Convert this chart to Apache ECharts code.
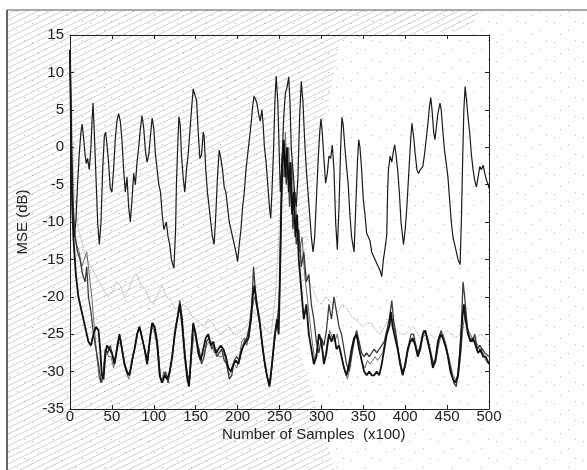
<!DOCTYPE html>
<html>
<head>
<meta charset="utf-8">
<script src="https://cdn.jsdelivr.net/npm/echarts@6/dist/echarts.min.js"></script>
<style>html,body{margin:0;padding:0;background:#fff}#c{width:587px;height:470px}</style>
</head>
<body>
<div id="c"></div>
<script>
// ---- data (x in samples x100, y in dB) ----
var xTicks = [0,50,100,150,200,250,300,350,400,450,500];
var yTicks = [15,10,5,0,-5,-10,-15,-20,-25,-30,-35];
var xTitle = 'Number of Samples  (x100)';
var yTitle = 'MSE (dB)';

var aX = [0,1,2,3,5,7,9,11,13,14.5,16,18,19.5,21,23,25,26.5,27.5,29,31,33,35,37,39,41,42.5,44,46,48,50,52,54,56,58,60,62,64,66,68,70,72,74,76,78,80,82,84,86,88,90,92,94,96,98,100,102,104,106,108,110,112,115,117,119,121,124,126,127,128.5,130,131.5,133,135,137,139,141,143,145,147,149,151,153,155,157,159,160,162,164,166,168,170,172,174,176,178,180,182,184,186,188,190,192,194,196,198,200,202,204,206,208,210,212,214,216,218,219.5,221,223,225,227,229,230.5,232,234,236,238,239.5,241,243,244.5,246,248,250,251,253,255,257,259,261,262.5,264,266,268,270,272,274,276,278,280,282,284,286,288,290,292,294,296,298,299.5,301,303,305,307,309,311,313,315,317,319,321,323,324.5,326,328,330,332,334,336,339,341,343,344.5,346,348,350,352,354,356,358,360,362,364,366,368,370,372,374,376,378,379,380,382,384,386,387.5,389,391,393,395,397,398,400,402,404,406,408,410,412,414,416,418,421,423,425,427,429,430.5,432,434,435.5,437,439,441.5,443,445,447,449.5,451,453,455,457,459,461,463,465.5,467,468.5,470,471.5,473,475,477,479,481,483,485,487,489,491,493,495,497,499,500];
var aY = [12,4,-4,-10,-12,-10,-5,-1,2,3.1,1.5,-1,-2.2,-1.5,-3,0,4,5.9,2,-4,-10,-13,-10,-3,1.5,2,0.5,-2,-5.5,-6,-3,1,3.5,4.5,3.5,1,-3,-6,-4,-8,-10,-7,-3.5,-5,-2,0,2.5,4.2,2.5,-0.5,-2,-1,1.5,3.9,2.5,-1,-3,-5,-6,-9,-11,-10,-12,-13,-15,-16.2,-11,-5,0,4.1,3,-1,-4,-6,-3,-1,2,5,7.8,7,6.3,2,-1.5,-1,2,1.5,-3,-6,-8,-10,-12,-13,-9,-4,-0.4,-1.5,-3,-5.3,-6,-8,-10,-11,-12,-13,-14,-15.3,-13,-11,-8,-6,-3,-1,1,3,5.5,6.8,6.5,5.9,4.5,3.5,5,3,0,-2,-5,-8,-9.5,-6,0,6,9.5,6,-2,-6,-2,4,7.2,8,9.4,6,0,-3,-6,-8,-4,4,8.8,6,1,-3,-6,-9,-12,-14,-12,-7,-2,2,3.8,2,-1.5,-4.8,-3.5,-1.2,-1.5,0.3,-3,-10,-13.7,-8,0,4,3,0,-2.6,-5,-9,-12,-14,-8,-2,1,0,-3,-7,-9,-11.5,-12,-12.5,-14,-14,-15,-15.5,-16,-16.5,-17.3,-15,-13.5,-11.7,-6,-3,-1.2,-2,-0.5,0.3,-1,-3,-6,-10,-12,-13,-11,-8,-4,0,3.2,1.5,-1,-3,-3.5,-3,-2.6,-1,1,3,5.5,6.6,5,2,1,2.5,4.5,5.9,5,2,-0.5,-2.6,-4,-7,-10,-12,-13,-14,-15,-15.7,-10,-2,5,8.1,6.5,4,1.9,-1,-3,-4.5,-5.3,-4,-2.6,-3,-2.4,-3.5,-4.4,-5,-5.5];

var bX = [0,2,4,7,10,14,18,22,25,28,31,34,36,38,40,42,44,47,50,53,56,59,62,65,68,71,74,77,80,83,86,89,92,95,98,101,104,107,110,113,116,119,122,125,128,131,134,137,140,142,145,147,150,153,156,159,162,165,168,171,174,177,180,183,186,189,192,195,198,201,204,207,210,213,216,218,220,223,226,229,232,235,238,241,244,247,249,251,253,255,257,259,261,263,265,267,269,271,273,276,279,282,285,288,291,294,297,300,303,306,309,312,315,318,321,324,327,330,333,336,339,342,345,348,351,354,357,360,363,366,369,372,375,378,381,383,385,388,391,394,397,400,403,406,409,412,415,418,421,424,427,430,433,436,439,442,445,448,451,454,457,460,463,466,468,470,472,475,478,481,484,487,490,493,496,500];
var bY = [13,-5,-12,-17,-20,-22,-24,-26,-26.5,-25,-24,-24.5,-27,-30.5,-31,-28,-26.5,-27,-27.5,-29,-27,-25,-27,-29,-30,-30.5,-28.5,-27,-25,-24,-25.5,-27,-29,-26,-23.5,-24,-26,-30.5,-31.5,-30.5,-31,-30,-28,-25,-23,-21,-24,-28,-31,-32,-27,-23.5,-25,-27.5,-28.5,-27,-25.5,-25,-26.5,-26,-27.5,-27,-26.5,-27,-28,-29.5,-30,-29,-28.5,-29,-27.5,-26.5,-26,-25.5,-23,-20,-18.5,-21,-23,-26,-28.5,-30.5,-32,-29,-25.5,-23,-25,-15,-3,1,-4,0,-6,-2,-9,-6,-12,-9,-15,-19,-23,-21,-25,-27,-29,-28,-25,-26,-29,-27.5,-25,-26,-25,-27,-26.5,-28,-29.5,-30.5,-29,-27,-25.5,-25,-27,-28.5,-30,-30.5,-30,-30.5,-30.5,-30,-30.5,-29,-27,-25,-24,-22,-24,-25.5,-27,-29,-30.5,-29,-27,-26,-25.5,-26.5,-28,-27,-25,-24.5,-26,-27.5,-29.5,-28.5,-26,-25,-25.5,-26.5,-28,-30,-31,-31.5,-30.5,-27,-23,-21,-23,-25,-26,-25.5,-26.5,-27.5,-27,-28,-28,-29];

var cX = [0,2,4,6,9,12,15,18,20,22,25,28,31,34,37,40,42,45,48,51,54,57,60,63,66,69,72,75,78,81,84,87,90,93,96,99,102,105,108,111,114,117,120,123,126,129,131,134,137,140,143,146,148,151,154,157,160,163,166,169,172,175,178,181,184,187,190,193,196,199,202,205,208,211,214,217,219,221,224,227,230,233,236,239,242,245,248,250,252,254,256,258,260,262,264,266,268,270,273,276,279,282,285,288,291,294,297,300,303,306,309,312,315,318,321,324,327,330,333,336,339,342,345,348,351,354,357,360,363,366,369,372,375,378,381,384,386,389,392,395,398,401,404,407,410,413,416,419,422,425,428,431,434,437,440,443,446,449,452,455,458,461,464,467,469,471,474,477,480,483,486,489,492,495,500];
var cY = [13,0,-8,-12,-14,-15,-17,-18,-16,-20,-22,-25,-27,-29,-31.5,-30,-27,-27.5,-26.5,-28,-28.5,-26,-25.5,-27.5,-29.5,-30.5,-30,-28,-26.5,-24.5,-24.5,-26,-27.5,-28.5,-25,-23.5,-25,-27,-31,-31,-30,-31.5,-29.5,-27,-24,-22.5,-20.5,-23,-27.5,-30.5,-31,-25,-24,-26,-27,-29,-28,-26,-25.5,-27,-26.5,-28,-27.5,-27,-28.5,-29,-31,-30.5,-28.5,-28,-28.5,-27,-26,-25.5,-24,-21,-16,-19,-22,-24,-27,-29.5,-31,-31.5,-28,-25,-22.5,-20,-8,-2,0.5,-5,-2,-8,-4,-11,-8,-13,-11,-16,-14,-18,-17,-21,-23,-26,-27.5,-25.5,-26.5,-24.5,-21,-23,-20,-22,-24,-25,-27,-29,-30,-28,-26,-24.5,-26,-27.5,-28,-27.5,-28,-27.5,-27,-27.5,-27,-26.5,-26,-24.5,-23,-20.5,-23,-25,-27.5,-29.5,-30,-28.5,-26.5,-25,-25,-27,-27.5,-26,-24.5,-25,-26.5,-28,-29,-28,-25.5,-24.5,-26,-27,-28.5,-30,-31.5,-32,-29,-24,-18,-20,-24,-25.5,-26,-25,-27,-26.5,-27,-27.5,-28];

var dX = [0,1,3,5,8,11,14,17,20,23,26,29,32,35,38,41,43,46,49,52,55,58,61,64,67,70,73,76,79,82,85,88,91,94,97,100,103,106,109,112,115,118,121,124,127,130,133,136,139,142,145,148,151,154,157,160,163,166,169,172,175,178,181,184,187,190,193,196,199,202,205,208,211,214,217,220,222,225,228,231,234,237,240,243,246,249,251,253,255,257,259,261,263,265,267,269,271,274,277,280,283,286,289,292,295,298,301,304,307,310,313,316,319,322,325,328,331,334,337,340,343,346,349,352,355,358,361,364,367,370,373,376,379,382,385,388,391,394,397,400,403,406,409,412,415,418,421,424,427,430,433,436,439,442,445,448,451,454,457,460,463,466,469,472,475,478,481,484,487,490,493,496,500];
var dY = [13,5,-8,-11,-13,-14,-16,-15,-14,-17,-20,-24,-28,-31,-31.5,-29,-27,-28,-28,-29.5,-28,-26,-26.5,-28.5,-30,-31,-29.5,-27.5,-26,-24,-25,-26.5,-28,-27,-24,-24.5,-26,-29,-31.5,-30,-31,-30.5,-28.5,-26,-23.5,-21.5,-22,-26,-29.5,-31.5,-28,-25,-25.5,-28,-28,-27.5,-26.5,-26,-26,-27.5,-27,-28,-28,-27.5,-29,-30.5,-29.5,-29,-29.5,-28,-26,-25.5,-26.5,-25,-22,-20,-21,-22.5,-25,-28,-30,-31.5,-30.5,-27,-24,-23,-12,-1,-4,2,-3,0,-5,-2,-8,-6,-11,-14,-12,-17,-20,-23,-26,-28.5,-27,-25,-27,-28.5,-26,-24.5,-25.5,-26,-25,-27,-28.5,-30,-31,-29.5,-27,-25.5,-25.5,-27.5,-29,-29.5,-28.5,-29,-28.5,-28,-28.5,-28,-27.5,-26,-24.5,-23.5,-23,-25,-26.5,-28.5,-30,-29.5,-27.5,-26,-26,-26,-27.5,-26.5,-25.5,-25,-25.5,-27,-28.5,-29,-27,-25.5,-25,-26,-27.5,-29,-30.5,-31,-31,-28,-24,-22,-24.5,-25,-26,-26,-26.5,-27.5,-27.5,-28.5,-29];

var eX = [0,5,10,15,20,25,30,35,40,45,50,55,60,65,70,75,80,85,90,95,100,105,110,115,120,125,130,135,140,145,150,155,160,165,170,175,180,185,190,195,200,205,210,215,220,225,230,235,240,245,250,255,260,265,270,275,280,285,290,295,300,305,310,315,320,325,330,335,340,345,350,355,360,365,370,375,380,385,390,395,400,405,410,415,420,425,430,435,440,445,450,455,460,465,470,475,480,485,490,495,500];
var eY = [13,-6,-11,-13,-15,-16,-17,-18,-19,-20,-19.5,-18,-18.5,-20,-19,-17.5,-17,-18.5,-19,-20.5,-21,-19.5,-18.5,-20,-20.5,-21.5,-22,-21,-21.5,-22.5,-23,-23.5,-24,-23,-23.5,-24.5,-25,-24.5,-24,-25,-25,-24.5,-24,-23,-22,-23,-24,-24.5,-25,-20,-10,-4,-3,-7,-10,-13,-16,-18,-19,-20.5,-21,-20,-20.5,-21.5,-22,-21,-21.5,-22.5,-23,-23.5,-24,-23.5,-23.5,-24.5,-25,-24,-23,-24,-24.5,-25,-25,-24.5,-24,-25,-26,-25.5,-25,-25.5,-26,-25,-24.5,-25,-25.5,-25,-24,-25,-26,-25.5,-25,-25.5,-26];

function pairs(xs, ys){ return xs.map(function(x,i){ return [x, ys[i]]; }); }

// scan texture: fine diagonal hatch and sparse dots
var pc = document.createElement('canvas');
pc.width = 12; pc.height = 6;
var g = pc.getContext('2d');
g.strokeStyle = 'rgba(130,130,130,0.38)';
g.lineWidth = 1;
g.beginPath(); g.moveTo(0,6); g.lineTo(12,0); g.stroke();

var dc = document.createElement('canvas');
dc.width = 29; dc.height = 19;
var h = dc.getContext('2d');
h.fillStyle = 'rgba(90,90,90,0.45)';
h.fillRect(3,4,1,1); h.fillRect(17,11,1,1); h.fillRect(24,2,1,1); h.fillRect(9,15,1,1);

var chart = echarts.init(document.getElementById('c'), null, {renderer:'canvas'});
var FONT = 'Liberation Sans, Arial, sans-serif';
function line(name, xs, ys, color, w, type){
  return {name:name, type:'line', data:pairs(xs,ys), showSymbol:false, symbol:'none',
    lineStyle:{color:color, width:w, type:type||'solid'}, animation:false, z:3};
}
var tick = {show:true, inside:true, length:4, lineStyle:{color:'#222'}};
var axLine = {show:true, onZero:false, lineStyle:{color:'#222', width:1}};
chart.setOption({
  animation:false,
  backgroundColor:'#ffffff',
  graphic:[
    {type:'rect', z:-11, silent:true, shape:{x:8,y:10,width:579,height:460},
     style:{fill:{image:dc, repeat:'repeat'}}},
    {type:'polygon', z:-10, silent:true,
     shape:{points:[[8,10],[480,10],[470,30],[340,40],[310,200],[300,350],[335,470],[8,470]]},
     style:{fill:{image:pc, repeat:'repeat'}}},
    {type:'line', z:5, shape:{x1:7,y1:10,x2:7,y2:470}, style:{stroke:'#333', lineWidth:1.5}},
    {type:'line', z:5, shape:{x1:7,y1:10,x2:587,y2:10}, style:{stroke:'#555', lineWidth:1.2}},
    {type:'text', z:5, left:222, top:427,
     style:{text:xTitle, font:'15px Liberation Sans, Arial, sans-serif', fill:'#222'}}
  ],
  grid:{left:70, right:98, top:35, bottom:61, show:false},
  xAxis:[
    {type:'value', min:xTicks[0], max:xTicks[xTicks.length-1], interval:50, position:'bottom',
     axisLine:axLine, axisTick:tick,
     axisLabel:{fontFamily:FONT, fontSize:15, color:'#222', margin:0},
     splitLine:{show:false}},
    {type:'value', min:xTicks[0], max:xTicks[xTicks.length-1], interval:50, position:'top',
     axisLine:axLine, axisTick:tick,
     axisLabel:{show:false}, splitLine:{show:false}}
  ],
  yAxis:[
    {type:'value', min:yTicks[yTicks.length-1], max:yTicks[0], interval:5, position:'left',
     name:yTitle, nameLocation:'middle', nameGap:40, nameRotate:90,
     nameTextStyle:{fontFamily:FONT, fontSize:15, color:'#222'},
     axisLine:axLine, axisTick:tick,
     axisLabel:{fontFamily:FONT, fontSize:15, color:'#222', margin:6},
     splitLine:{show:false}},
    {type:'value', min:yTicks[yTicks.length-1], max:yTicks[0], interval:5, position:'right',
     axisLine:axLine, axisTick:tick,
     axisLabel:{show:false}, splitLine:{show:false}}
  ],
  series:[
    line('E', eX, eY, '#a0a0a0', 1, 'dotted'),
    line('D', dX, dY, '#6a6a6a', 1),
    line('C', cX, cY, '#3a3a3a', 1.3),
    line('B', bX, bY, '#111111', 1.8),
    line('A', aX, aY, '#1a1a1a', 1.2)
  ]
});
</script>
</body>
</html>
